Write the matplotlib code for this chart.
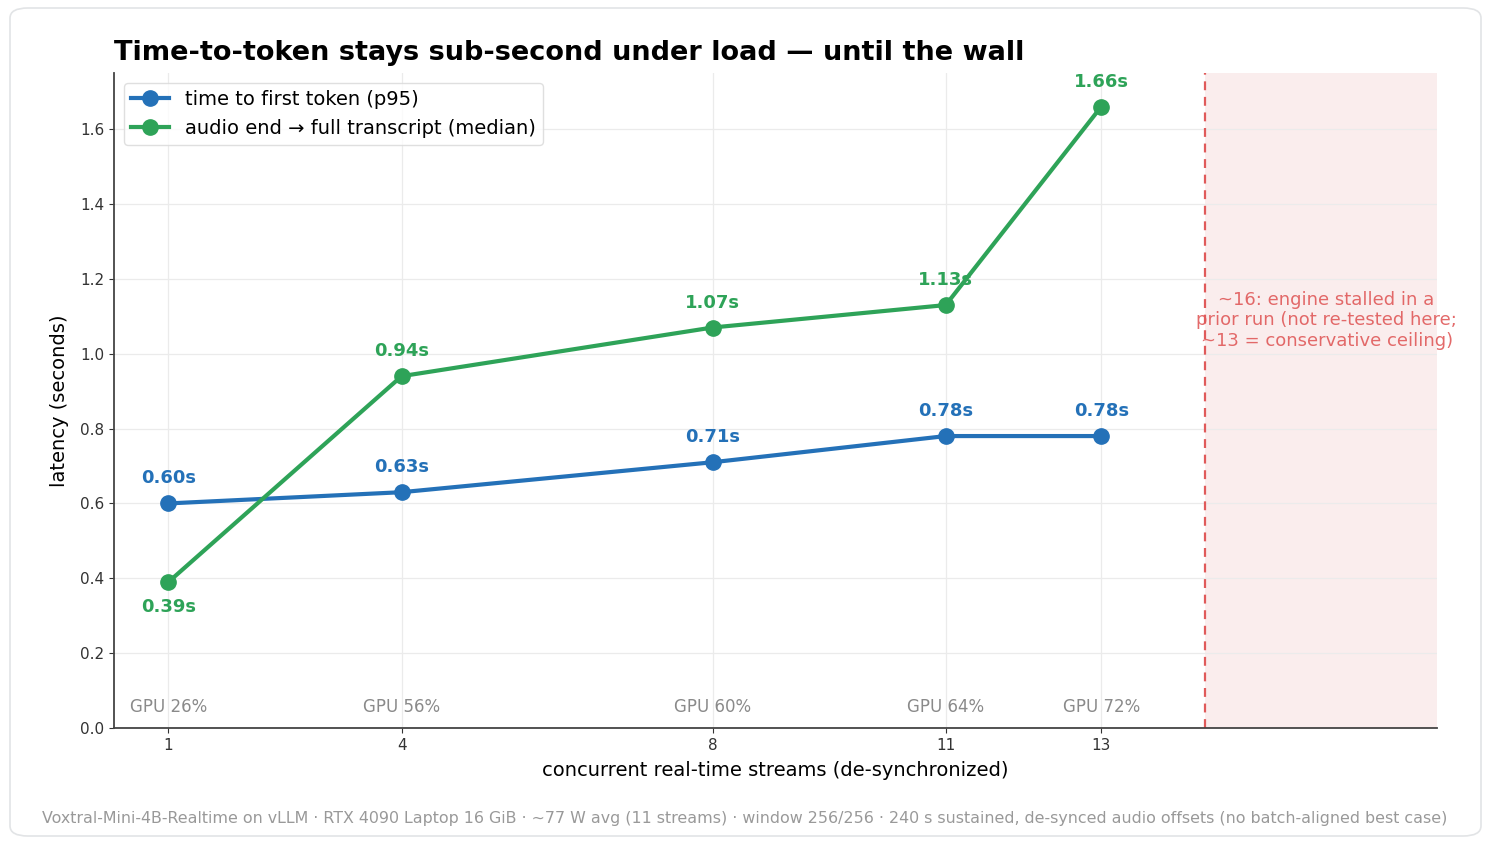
import matplotlib
matplotlib.use("Agg")
import matplotlib.pyplot as plt
from matplotlib.patches import FancyBboxPatch

plt.rcParams['font.family'] = ['DejaVu Sans']

streams = [1, 4, 8, 11, 13]
ttft = [0.60, 0.63, 0.71, 0.78, 0.78]
full = [0.39, 0.94, 1.07, 1.13, 1.66]
gpu_labels = ["GPU 26%", "GPU 56%", "GPU 60%", "GPU 64%", "GPU 72%"]
wall_x = 14.33
xlim = (0.3, 17.32)
ylim = (0, 1.75)

blue = "#2471b8"
green = "#2ea358"
red = "#e05a5a"

fig = plt.figure(figsize=(14.88, 8.44), dpi=100)
fig.patch.set_facecolor("white")
card = FancyBboxPatch((10/1488, 8/844), 1471/1488, 828/844,
                      boxstyle="round,pad=0,rounding_size=0.012",
                      transform=fig.transFigure, facecolor="white",
                      edgecolor="#e2e4e6", linewidth=1.2, zorder=-10)
fig.patches.append(card)

ax = fig.add_axes([114/1488, 1 - 728/844, (1437 - 114)/1488, (728 - 73)/844])
ax.set_xlim(*xlim)
ax.set_ylim(*ylim)

ax.axvspan(wall_x, xlim[1], color="#f9e9e9", alpha=0.8, zorder=0, lw=0)
ax.axvline(wall_x, color=red, ls=(0, (4, 3)), lw=1.6, zorder=1)

ax.plot(streams, ttft, color=blue, lw=3, marker="o", ms=11, zorder=3,
        label="time to first token (p95)")
ax.plot(streams, full, color=green, lw=3, marker="o", ms=11, zorder=3,
        label="audio end \u2192 full transcript (median)")

for x, v in zip(streams, ttft):
    ax.annotate(f"{v:.2f}s", (x, v), xytext=(0, 18), textcoords="offset points",
                ha="center", va="center", color=blue, fontsize=13, fontweight="bold")
for i, (x, v) in enumerate(zip(streams, full)):
    dy = -18 if i == 0 else 18
    ax.annotate(f"{v:.2f}s", (x, v), xytext=(0, dy), textcoords="offset points",
                ha="center", va="center", color=green, fontsize=13, fontweight="bold")

for x, g in zip(streams, gpu_labels):
    ax.text(x, 0.055, g, ha="center", va="center", color="#8a8a8a", fontsize=12)

ax.text(15.9, 1.09,
        "~16: engine stalled in a\nprior run (not re-tested here;\n~13 = conservative ceiling)",
        ha="center", va="center", color=red, fontsize=13, alpha=0.9, linespacing=1.18)

ax.set_xticks(streams)
ax.set_yticks([0.0, 0.2, 0.4, 0.6, 0.8, 1.0, 1.2, 1.4, 1.6])
ax.set_yticklabels([f"{v:.1f}" for v in ax.get_yticks()])
ax.tick_params(labelsize=11, colors="#333333")
ax.grid(True, color="#ebebeb", lw=0.9)
ax.set_axisbelow(True)
for s in ["top", "right"]:
    ax.spines[s].set_visible(False)
for s in ["left", "bottom"]:
    ax.spines[s].set_color("#444444")
    ax.spines[s].set_linewidth(1.3)

ax.set_xlabel("concurrent real-time streams (de-synchronized)", fontsize=14, labelpad=6)
ax.set_ylabel("latency (seconds)", fontsize=14, labelpad=8)
ax.set_title("Time-to-token stays sub-second under load \u2014 until the wall",
             loc="left", fontsize=19.5, fontweight="bold", pad=9)

leg = ax.legend(loc="upper left", fontsize=14, frameon=True, borderpad=0.35,
                handlelength=2.0, labelspacing=0.55, bbox_to_anchor=(0.0, 1.0))
leg.get_frame().set_edgecolor("#d8d8d8")
leg.get_frame().set_linewidth(1.0)

fig.text(745/1488, 1 - 819/844,
         "Voxtral-Mini-4B-Realtime on vLLM \u00b7 RTX 4090 Laptop 16 GiB \u00b7 ~77 W avg (11 streams) \u00b7 "
         "window 256/256 \u00b7 240 s sustained, de-synced audio offsets (no batch-aligned best case)",
         ha="center", va="center", color="#999999", fontsize=11.4)

fig.savefig("out.png", dpi=100, facecolor="white")
